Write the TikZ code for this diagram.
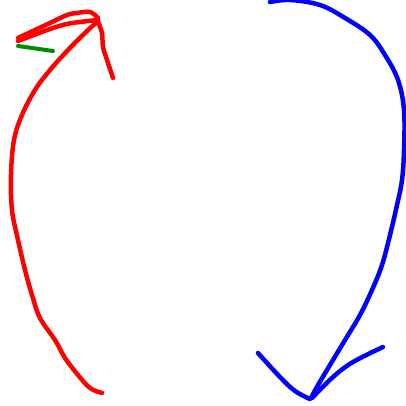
\documentclass[tikz,border=0pt]{standalone}
\usepackage{tikz}
\usetikzlibrary{arrows.meta}
\usepackage{xcolor}
\definecolor{penred}{RGB}{255,0,0}
\definecolor{penblue}{RGB}{0,0,255}
\definecolor{pengreen}{RGB}{0,140,0}

\begin{document}
\begin{tikzpicture}[x=1pt, y=-1pt, line width=4.5pt, line cap=round, line join=round]
  \useasboundingbox (0,0) rectangle (406,405);
  % red stroke going up
  \draw[penred, smooth, tension=0.6] plot coordinates {(102,393)(90,388)(78,375)(65,358)(55,340)(40,318)(32,295)(25,270)(18,240)(12,210)(11,175)(14,140)(22,115)(35,90)(50,70)(68,50)(85,33)(98,21)};
  % red head
  \draw[penred, smooth, tension=0.6] plot coordinates {(98,18)(90,12)(77,13)(67,15)(50,23)(18,38)};
  \draw[penred, smooth, tension=0.6] plot coordinates {(98,20)(80,22)(67,24)(50,29)(18,41)};
  \draw[penred, smooth, tension=0.6] plot coordinates {(98,22)(102,33)(103,47)(107,60)(113,78)};
  % green dash
  \draw[pengreen, line width=4pt] (18,46) -- (53,51);
  % blue stroke going down
  \draw[penblue, smooth, tension=0.6] plot coordinates {(270,2)(290,0)(320,5)(345,18)(370,35)(385,55)(398,80)(404,110)(404,150)(402,180)(397,205)(390,235)(382,265)(372,290)(360,315)(345,340)(330,365)(318,385)(311,398)};
  % blue head
  \draw[penblue, smooth, tension=0.6] plot coordinates {(258,353)(280,377)(295,391)(310,399)};
  \draw[penblue, smooth, tension=0.6] plot coordinates {(312,398)(333,377)(353,362)(383,347)};
\end{tikzpicture}
\end{document}
